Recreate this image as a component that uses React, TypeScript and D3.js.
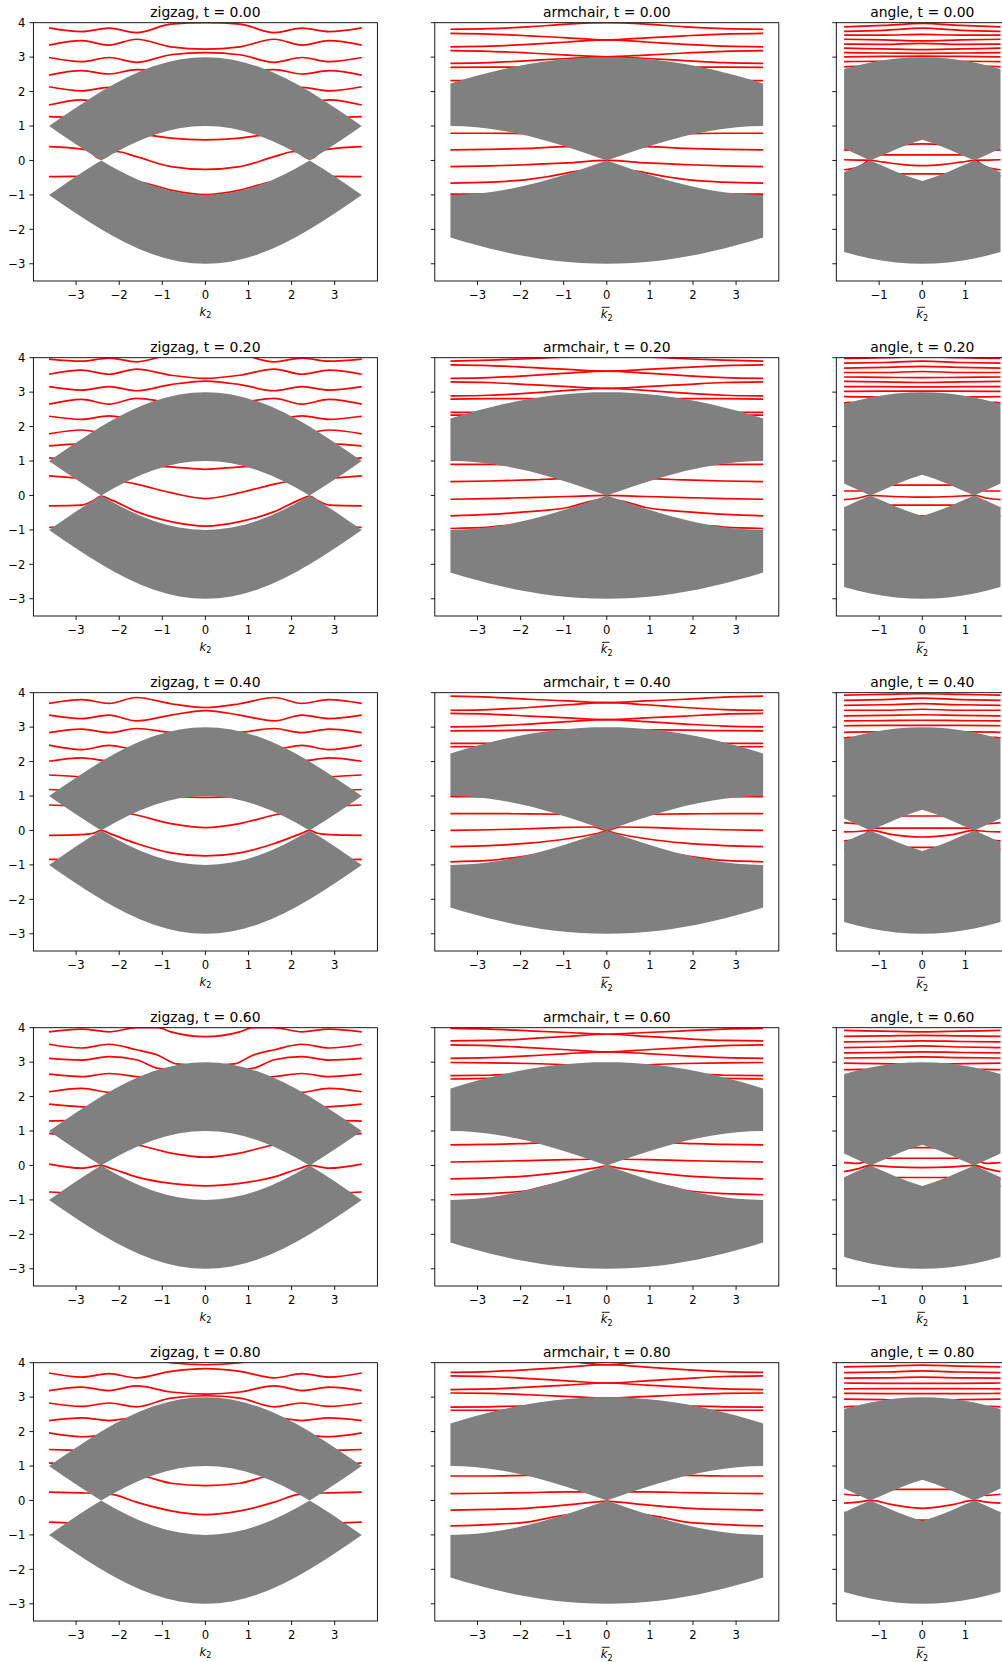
import React from 'react';
import * as d3 from 'd3';

type Pt = [number, number];

const kinds = ['zigzag', 'armchair', 'angle'];
const tValues = [0, 0.2, 0.4, 0.6, 0.8];
const yTickValues = [-3, -2, -1, 0, 1, 2, 3, 4];
const wideXTicks = [-3, -2, -1, 0, 1, 2, 3];
const angleXTicks = [-1, 0, 1];

// grey bulk bands, sampled across the zone
const kWide = [-3.628, -3.326, -3.023, -2.721, -2.419, -2.116, -1.814, -1.512, -1.209, -0.907, -0.605, -0.302, 0,
  0.302, 0.605, 0.907, 1.209, 1.512, 1.814, 2.116, 2.419, 2.721, 3.023, 3.326, 3.628];
const zigzagUpperHi = [1, 1.261, 1.518, 1.765, 2, 2.218, 2.414, 2.587, 2.732, 2.848, 2.932, 2.983, 3,
  2.983, 2.932, 2.848, 2.732, 2.587, 2.414, 2.218, 2, 1.765, 1.518, 1.261, 1];
const zigzagUpperLo = [1, 0.739, 0.482, 0.235, 0, 0.218, 0.414, 0.587, 0.732, 0.848, 0.932, 0.983, 1,
  0.983, 0.932, 0.848, 0.732, 0.587, 0.414, 0.218, 0, 0.235, 0.482, 0.739, 1];
const zigzagLowerHi = [-1, -0.739, -0.482, -0.235, 0, -0.218, -0.414, -0.587, -0.732, -0.848, -0.932, -0.983, -1,
  -0.983, -0.932, -0.848, -0.732, -0.587, -0.414, -0.218, 0, -0.235, -0.482, -0.739, -1];
const zigzagLowerLo = [-1, -1.261, -1.518, -1.765, -2, -2.218, -2.414, -2.587, -2.732, -2.848, -2.932, -2.983, -3,
  -2.983, -2.932, -2.848, -2.732, -2.587, -2.414, -2.218, -2, -1.765, -1.518, -1.261, -1];

const armchairUpperHi = [2.236, 2.35, 2.457, 2.556, 2.646, 2.727, 2.798, 2.859, 2.909, 2.949, 2.977, 2.994, 3,
  2.994, 2.977, 2.949, 2.909, 2.859, 2.798, 2.727, 2.646, 2.556, 2.457, 2.35, 2.236];
const armchairUpperLo = [1, 0.991, 0.966, 0.924, 0.866, 0.793, 0.707, 0.609, 0.5, 0.383, 0.259, 0.131, 0,
  0.131, 0.259, 0.383, 0.5, 0.609, 0.707, 0.793, 0.866, 0.924, 0.966, 0.991, 1];
const armchairLowerHi = [-1, -0.991, -0.966, -0.924, -0.866, -0.793, -0.707, -0.609, -0.5, -0.383, -0.259, -0.131, 0,
  -0.131, -0.259, -0.383, -0.5, -0.609, -0.707, -0.793, -0.866, -0.924, -0.966, -0.991, -1];
const armchairLowerLo = [-2.236, -2.35, -2.457, -2.556, -2.646, -2.727, -2.798, -2.859, -2.909, -2.949, -2.977, -2.994, -3,
  -2.994, -2.977, -2.949, -2.909, -2.859, -2.798, -2.727, -2.646, -2.556, -2.457, -2.35, -2.236];

const kAngle = [-1.814, -1.512, -1.209, -0.907, -0.605, -0.302, 0, 0.302, 0.605, 0.907, 1.209, 1.512, 1.814];
const angleUpperHi = [2.659, 2.76, 2.845, 2.912, 2.962, 2.99, 3, 2.99, 2.962, 2.912, 2.845, 2.76, 2.659];
const angleUpperLo = [0.345, 0.17, 0, 0.16, 0.328, 0.475, 0.6, 0.475, 0.328, 0.16, 0, 0.17, 0.345];
const angleLowerHi = [-0.345, -0.17, 0, -0.16, -0.328, -0.475, -0.6, -0.475, -0.328, -0.16, 0, -0.17, -0.345];
const angleLowerLo = [-2.659, -2.76, -2.845, -2.912, -2.962, -2.99, -3, -2.99, -2.962, -2.912, -2.845, -2.76, -2.659];

// red ribbon bands: left half of each curve (zone edge -> k = 0), the plots are mirror symmetric
const zigzagLines: Pt[][][] = [
  [
    [[-3.628, 3.85], [-2.87, 3.74], [-2.24, 3.84], [-1.6, 3.71], [-0.8, 3.96], [0, 4.0]],
    [[-3.628, 3.35], [-2.87, 3.48], [-2.24, 3.35], [-1.6, 3.52], [-0.8, 3.3], [0, 3.23]],
    [[-3.628, 2.99], [-2.87, 2.87], [-2.24, 2.99], [-1.6, 2.85], [-0.8, 3.07], [0, 3.13]],
    [[-3.628, 2.48], [-2.87, 2.61], [-2.24, 2.51], [-1.6, 2.64], [-0.8, 2.6], [0, 2.55]],
    [[-3.628, 2.14], [-2.87, 2.02], [-2.24, 2.12], [-1.6, 2.0], [0, 2.0]],
    [[-3.628, 1.61], [-2.87, 1.76], [-2.24, 1.62], [0, 1.6]],
    [[-3.628, 1.27], [-3.2, 1.25], [-2.42, 1.0], [-1.6, 0.8], [-0.8, 0.65], [0, 0.6]],
    [[-3.628, 0.4], [-2.87, 0.33], [-2.69, 0.29], [-2.54, 0.11], [-2.42, 0.05], [-2.07, 0.26], [-1.6, 0.11], [-0.8, -0.18], [0, -0.26]],
    [[-3.628, -0.47], [-3.1, -0.46], [-2.42, -0.5], [-1.45, -0.64], [-0.8, -0.86], [0, -0.99]],
  ],
  [
    [[-3.628, 3.96], [-2.87, 3.9], [-2.24, 3.99], [-1.6, 3.88], [-0.8, 4.1], [0, 4.2]],
    [[-3.628, 3.52], [-2.87, 3.64], [-2.24, 3.52], [-1.6, 3.67], [-0.8, 3.49], [0, 3.4]],
    [[-3.628, 3.16], [-2.87, 3.06], [-2.24, 3.16], [-1.6, 3.04], [-0.8, 3.22], [0, 3.32]],
    [[-3.628, 2.65], [-2.87, 2.79], [-2.24, 2.65], [-1.6, 2.82], [-0.8, 2.7], [0, 2.65]],
    [[-3.628, 2.3], [-2.87, 2.21], [-2.24, 2.31], [-1.6, 2.2], [0, 2.2]],
    [[-3.628, 1.79], [-2.87, 1.9], [-2.24, 1.8], [0, 1.8]],
    [[-3.628, 1.44], [-2.87, 1.5], [0, 1.5]],
    [[-3.628, 1.09], [-2.87, 1.0], [-2.24, 0.95], [-1.6, 0.88], [-0.8, 0.83], [0, 0.76]],
    [[-3.628, 0.57], [-3.1, 0.52], [-2.42, 0.45], [-1.85, 0.39], [-1.6, 0.33], [-0.8, 0.08], [0, -0.09]],
    [[-3.628, -0.3], [-2.87, -0.28], [-2.6, -0.15], [-2.42, -0.02], [-2.2, -0.12], [-1.6, -0.47], [-0.8, -0.76], [0, -0.89]],
    [[-3.628, -0.93], [-3.3, -0.9], [-2.42, -0.8], [-1.6, -1.2], [0, -1.5]],
  ],
  [
    [[-3.628, 3.69], [-2.87, 3.8], [-2.24, 3.69], [-1.6, 3.86], [-0.8, 3.68], [0, 3.57]],
    [[-3.628, 3.35], [-2.87, 3.25], [-2.24, 3.35], [-1.6, 3.18], [-0.8, 3.35], [0, 3.48]],
    [[-3.628, 2.84], [-2.87, 2.94], [-2.24, 2.84], [-1.6, 2.96], [-0.8, 2.85], [0, 2.8]],
    [[-3.628, 2.48], [-2.87, 2.35], [-2.24, 2.47], [-1.6, 2.35], [0, 2.3]],
    [[-3.628, 2.01], [-2.87, 2.11], [-2.24, 2.02], [0, 2.0]],
    [[-3.628, 1.61], [-2.87, 1.56], [0, 1.5]],
    [[-3.628, 1.19], [-2.87, 1.15], [-2.24, 1.1], [-1.6, 1.05], [-0.8, 0.99], [0, 0.96]],
    [[-3.628, 0.74], [-3.2, 0.72], [-2.42, 0.6], [-1.68, 0.47], [-0.8, 0.2], [0, 0.08]],
    [[-3.628, -0.14], [-2.87, -0.12], [-2.6, -0.08], [-2.42, 0], [-2.2, -0.1], [-1.6, -0.38], [-0.8, -0.65], [0, -0.74]],
    [[-3.628, -0.84], [-3.1, -0.85], [-2.42, -0.9], [-1.6, -1.2], [0, -1.5]],
  ],
  [
    [[-3.628, 3.88], [-2.87, 3.96], [-2.24, 3.88], [-1.6, 4.0], [-1.1, 4.0], [-0.8, 3.88], [0, 3.74]],
    [[-3.628, 3.52], [-2.87, 3.41], [-2.24, 3.52], [-1.6, 3.36], [-1.1, 3.2], [-0.67, 2.95], [0, 2.9]],
    [[-3.628, 3.11], [-2.87, 3.06], [-2.24, 3.16], [-1.6, 3.07], [-1.1, 2.82], [0, 2.7]],
    [[-3.628, 2.65], [-2.87, 2.58], [-2.24, 2.67], [-1.6, 2.58], [0, 2.4]],
    [[-3.628, 2.14], [-2.87, 2.24], [-2.24, 2.12], [0, 2.0]],
    [[-3.628, 1.78], [-2.87, 1.7], [0, 1.6]],
    [[-3.628, 1.29], [-3.2, 1.3], [-2.42, 1.2], [-1.6, 1.1], [0, 1.05]],
    [[-3.628, 0.93], [-2.87, 0.8], [-2.24, 0.7], [-1.52, 0.58], [-0.8, 0.36], [0, 0.24]],
    [[-3.628, 0.04], [-2.87, -0.08], [-2.42, 0], [-2.2, -0.08], [-1.6, -0.33], [-0.8, -0.52], [0, -0.59]],
    [[-3.628, -0.77], [-3.2, -0.8], [-2.42, -0.9], [-1.6, -1.2], [0, -1.5]],
  ],
  [
    [[-3.628, 4.4], [-2, 4.3], [-1.2, 4.12], [-0.8, 4.0], [0, 3.94]],
    [[-3.628, 3.7], [-2.87, 3.58], [-2.24, 3.68], [-1.6, 3.56], [-0.8, 3.75], [0, 3.83]],
    [[-3.628, 3.19], [-2.87, 3.29], [-2.24, 3.19], [-1.6, 3.33], [-0.8, 3.15], [0, 3.09]],
    [[-3.628, 2.83], [-2.87, 2.73], [-2.24, 2.83], [-1.6, 2.72], [-0.8, 2.97], [0, 3.04]],
    [[-3.628, 2.32], [-2.87, 2.4], [-2.24, 2.32], [-1.6, 2.4], [0, 2.4]],
    [[-3.628, 1.96], [-2.87, 1.85], [-2.24, 1.9], [0, 1.9]],
    [[-3.628, 1.48], [-3.2, 1.46], [0, 1.4]],
    [[-3.628, 1.09], [-2.87, 1.0], [-2.24, 0.9], [-1.35, 0.68], [-0.8, 0.5], [0, 0.43]],
    [[-3.628, 0.24], [-2.87, 0.22], [-2.42, 0.2], [-2.13, 0.17], [-1.6, -0.05], [-0.8, -0.3], [0, -0.41]],
    [[-3.628, -0.63], [-3.1, -0.66], [-2.42, -0.8], [-1.6, -1.2], [0, -1.5]],
  ],
];

const armchairLines: Pt[][][] = [
  [
    [[-3.628, 3.81], [-2.72, 3.83], [-1.81, 3.88], [-0.91, 3.96], [0, 4.0]],
    [[-3.628, 3.69], [-2.72, 3.67], [-1.81, 3.62], [-0.91, 3.56], [0, 3.5]],
    [[-3.628, 3.3], [-2.72, 3.32], [-1.81, 3.37], [-0.91, 3.44], [0, 3.5]],
    [[-3.628, 3.19], [-2.72, 3.17], [-1.81, 3.12], [-0.91, 3.06], [0, 3.01]],
    [[-3.628, 2.82], [-2.72, 2.84], [-1.81, 2.9], [-0.91, 2.96], [0, 3.0]],
    [[-3.628, 2.7], [-2.72, 2.71], [-2.17, 2.71], [0, 2.6]],
    [[-3.628, 2.32], [-3.35, 2.32], [0, 2.2]],
    [[-3.628, 0.79], [-2.72, 0.79], [-1.81, 0.78], [-0.91, 0.7], [0, 0.6]],
    [[-3.628, 0.31], [-2.72, 0.32], [-1.81, 0.35], [-0.91, 0.4], [0, 0.4]],
    [[-3.628, -0.18], [-2.72, -0.16], [-1.81, -0.12], [-0.91, -0.07], [0, 0]],
    [[-3.628, -0.66], [-2.72, -0.63], [-1.81, -0.55], [-0.91, -0.36], [-0.77, -0.32], [0, -0.25]],
    [[-3.628, -0.98], [-2.72, -0.98], [0, -0.9]],
  ],
  [
    [[-3.628, 3.9], [-2.72, 3.93], [-1.81, 3.97], [-0.91, 4.02], [0, 4.05]],
    [[-3.628, 3.79], [-2.72, 3.77], [-1.81, 3.72], [-0.91, 3.66], [0, 3.61]],
    [[-3.628, 3.4], [-2.72, 3.42], [-1.81, 3.48], [-0.91, 3.55], [0, 3.61]],
    [[-3.628, 3.3], [-2.72, 3.28], [-1.81, 3.22], [-0.91, 3.16], [0, 3.11]],
    [[-3.628, 2.89], [-2.72, 2.91], [-1.81, 2.97], [-0.91, 3.05], [0, 3.11]],
    [[-3.628, 2.8], [-2.72, 2.81], [-1.75, 2.81], [0, 2.7]],
    [[-3.628, 2.41], [-3.15, 2.41], [0, 2.3]],
    [[-3.628, 2.33], [-3.35, 2.33], [0, 2.2]],
    [[-3.628, 0.9], [-2.72, 0.9], [-1.81, 0.88], [0, 0.8]],
    [[-3.628, 0.4], [-2.72, 0.42], [-1.81, 0.45], [-1.17, 0.48], [0, 0.5]],
    [[-3.628, -0.11], [-2.72, -0.09], [-1.81, -0.06], [-0.91, -0.03], [0, 0]],
    [[-3.628, -0.59], [-2.72, -0.55], [-1.81, -0.47], [-0.91, -0.35], [-0.41, -0.18], [0, -0.1]],
    [[-3.628, -0.96], [-2.72, -0.92], [-2.53, -0.89], [0, -0.8]],
  ],
  [
    [[-3.628, 3.9], [-2.72, 3.87], [-1.81, 3.81], [-0.91, 3.76], [0, 3.71]],
    [[-3.628, 3.49], [-2.72, 3.51], [-1.81, 3.57], [-0.91, 3.65], [0, 3.71]],
    [[-3.628, 3.4], [-2.72, 3.38], [-1.81, 3.32], [-0.91, 3.27], [0, 3.22]],
    [[-3.628, 3.01], [-2.72, 3.03], [-1.81, 3.09], [-0.91, 3.16], [0, 3.22]],
    [[-3.628, 2.89], [-2.72, 2.9], [-1.2, 2.92], [0, 2.85]],
    [[-3.628, 2.53], [-2.72, 2.53], [-2.4, 2.6], [0, 2.5]],
    [[-3.628, 2.43], [-3.0, 2.43], [0, 2.3]],
    [[-3.628, 0.98], [-3.2, 0.98], [0, 0.9]],
    [[-3.628, 0.49], [-2.72, 0.49], [-1.81, 0.48], [-1.14, 0.47], [0, 0.45]],
    [[-3.628, 0.0], [-2.72, 0.02], [-1.81, 0.05], [-0.91, 0.09], [-0.3, 0.1], [0, 0.0]],
    [[-3.628, -0.47], [-2.72, -0.44], [-1.81, -0.37], [-0.91, -0.24], [-0.2, -0.08], [0, -0.02]],
    [[-3.628, -0.91], [-2.72, -0.87], [-1.92, -0.75], [-0.91, -0.55], [0, -0.4]],
  ],
  [
    [[-3.628, 3.98], [-2.72, 3.96], [-1.81, 3.91], [-0.91, 3.86], [0, 3.81]],
    [[-3.628, 3.62], [-2.72, 3.63], [-1.81, 3.68], [-0.91, 3.75], [0, 3.81]],
    [[-3.628, 3.5], [-2.72, 3.48], [-1.81, 3.42], [-0.91, 3.36], [0, 3.3]],
    [[-3.628, 3.11], [-2.72, 3.13], [-1.81, 3.18], [-0.91, 3.25], [0, 3.3]],
    [[-3.628, 2.99], [-2.72, 2.98], [-1.81, 2.96], [-1.08, 2.93], [0, 2.85]],
    [[-3.628, 2.61], [-2.72, 2.62], [-2.42, 2.64], [0, 2.5]],
    [[-3.628, 2.51], [-2.75, 2.53], [0, 2.4]],
    [[-3.628, 0.6], [-2.72, 0.61], [-1.64, 0.65], [0, 0.7]],
    [[-3.628, 0.1], [-2.72, 0.12], [-1.81, 0.14], [-0.91, 0.17], [-0.41, 0.18], [0, 0.2]],
    [[-3.628, -0.39], [-2.72, -0.36], [-1.81, -0.3], [-0.91, -0.18], [-0.3, -0.08], [0, -0.02]],
    [[-3.628, -0.85], [-2.72, -0.82], [-1.81, -0.72], [-1.42, -0.6], [0, -0.35]],
  ],
  [
    [[-3.628, 4.25], [-1.81, 4.15], [-0.91, 4.05], [0, 3.94]],
    [[-3.628, 3.72], [-2.72, 3.74], [-1.81, 3.8], [-0.91, 3.87], [0, 3.94]],
    [[-3.628, 3.62], [-2.72, 3.6], [-1.81, 3.54], [-0.91, 3.47], [0, 3.41]],
    [[-3.628, 3.22], [-2.72, 3.24], [-1.81, 3.29], [-0.91, 3.35], [0, 3.41]],
    [[-3.628, 3.12], [-2.72, 3.11], [-1.81, 3.07], [-0.58, 3.0], [0, 2.97]],
    [[-3.628, 2.71], [-2.72, 2.72], [-2.03, 2.74], [0, 2.6]],
    [[-3.628, 2.62], [-2.53, 2.615], [0, 2.5]],
    [[-3.628, 0.71], [-2.72, 0.71], [-1.92, 0.73], [0, 0.75]],
    [[-3.628, 0.2], [-2.72, 0.21], [-1.81, 0.23], [-0.91, 0.25], [-0.58, 0.25], [0, 0.28]],
    [[-3.628, -0.28], [-2.72, -0.26], [-1.81, -0.22], [-0.91, -0.13], [-0.3, -0.05], [0, -0.02]],
    [[-3.628, -0.74], [-2.72, -0.7], [-1.81, -0.62], [-1.08, -0.45], [0, -0.3]],
  ],
];

const angleLines: Pt[][][] = [
  [
    [[-1.814, 3.88], [-0.9, 3.92], [0, 3.98]],
    [[-1.814, 3.75], [-0.9, 3.78], [0, 3.84]],
    [[-1.814, 3.64], [-0.9, 3.64], [0, 3.66]],
    [[-1.814, 3.52], [-0.9, 3.5], [0, 3.47]],
    [[-1.814, 3.38], [-0.9, 3.37], [0, 3.4]],
    [[-1.814, 3.26], [-0.9, 3.24], [0, 3.22]],
    [[-1.814, 3.13], [-0.9, 3.12], [0, 3.11]],
    [[-1.814, 3.01], [-0.9, 3.02], [0, 3.03]],
    [[-1.814, 2.87], [-0.98, 2.88], [0, 2.8]],
    [[-1.814, 2.72], [-1.55, 2.73], [0, 2.6]],
    [[-1.814, 0.31], [-1.5, 0.3], [-1.0, 0.3], [-0.5, 0.45], [0, 0.48]],
    [[-1.814, 0.02], [-1.5, 0.01], [-1.21, 0], [-0.9, -0.05], [-0.45, -0.12], [0, -0.15]],
    [[-1.814, -0.27], [-1.5, -0.2], [-1.0, 0.16], [-0.5, 0.16], [0, 0.16]],
    [[-1.814, -0.45], [-1.2, -0.5], [-0.5, -0.39], [0, -0.39]],
  ],
  [
    [[-1.814, 3.98], [-0.9, 4.0], [0, 4.02]],
    [[-1.814, 3.84], [-0.9, 3.86], [0, 3.9]],
    [[-1.814, 3.7], [-0.9, 3.72], [0, 3.75]],
    [[-1.814, 3.57], [-0.9, 3.57], [0, 3.6]],
    [[-1.814, 3.44], [-0.9, 3.43], [0, 3.42]],
    [[-1.814, 3.31], [-0.9, 3.3], [0, 3.28]],
    [[-1.814, 3.16], [-0.9, 3.16], [0, 3.15]],
    [[-1.814, 3.02], [-0.9, 3.03], [0, 3.03]],
    [[-1.814, 2.87], [-1.17, 2.86], [0, 2.8]],
    [[-1.814, 2.68], [-1.7, 2.7], [0, 2.6]],
    [[-1.814, 0.13], [-1.44, 0.13], [-1.0, 0.3], [-0.65, 0.3], [0, 0.3]],
    [[-1.814, -0.12], [-1.5, -0.08], [-1.21, 0], [-0.7, -0.03], [0, -0.05]],
    [[-1.814, -0.35], [-1.5, -0.4], [-1.0, -0.28], [-0.7, -0.28], [0, -0.28]],
    [[-1.814, -0.6], [-1.0, -0.65], [-0.1, -0.6], [0, -0.59]],
  ],
  [
    [[-1.814, 3.93], [-0.9, 3.95], [0, 3.97]],
    [[-1.814, 3.78], [-0.9, 3.8], [0, 3.84]],
    [[-1.814, 3.63], [-0.9, 3.65], [0, 3.68]],
    [[-1.814, 3.49], [-0.9, 3.49], [0, 3.52]],
    [[-1.814, 3.33], [-0.9, 3.34], [0, 3.36]],
    [[-1.814, 3.18], [-0.9, 3.19], [0, 3.2]],
    [[-1.814, 3.04], [-0.9, 3.05], [0, 3.05]],
    [[-1.814, 2.85], [-1.2, 2.86], [0, 2.8]],
    [[-1.814, 2.68], [-1.7, 2.7], [0, 2.6]],
    [[-1.814, 0.23], [-1.5, 0.2], [-1.0, 0.35], [-0.47, 0.42], [0, 0.42]],
    [[-1.814, -0.04], [-1.5, -0.03], [-1.21, 0], [-0.7, -0.12], [0, -0.19]],
    [[-1.814, -0.3], [-1.5, -0.25], [-1.09, 0.07], [-0.5, 0.07], [0, 0.07]],
    [[-1.814, -0.55], [-1.0, -0.55], [-0.3, -0.49], [0, -0.49]],
  ],
  [
    [[-1.814, 3.92], [-0.9, 3.9], [0, 3.88]],
    [[-1.814, 3.75], [-0.9, 3.76], [0, 3.78]],
    [[-1.814, 3.59], [-0.9, 3.6], [0, 3.62]],
    [[-1.814, 3.42], [-0.9, 3.44], [0, 3.47]],
    [[-1.814, 3.27], [-0.9, 3.28], [0, 3.3]],
    [[-1.814, 3.12], [-0.9, 3.13], [0, 3.15]],
    [[-1.814, 2.97], [-0.7, 2.95], [0, 2.9]],
    [[-1.814, 2.78], [-1.4, 2.79], [0, 2.7]],
    [[-1.814, 0.08], [-1.5, 0.06], [-1.0, 0.3], [-0.2, 0.52], [0, 0.52]],
    [[-1.814, -0.18], [-1.5, -0.1], [-1.21, 0], [-0.7, -0.04], [0, -0.06]],
    [[-1.814, -0.4], [-1.5, -0.22], [-1.21, 0], [-1.0, 0.2], [-0.82, 0.21], [0, 0.21]],
    [[-1.814, -0.6], [-1.0, -0.5], [-0.58, -0.35], [0, -0.35]],
  ],
  [
    [[-1.814, 3.88], [-0.9, 3.9], [0, 3.93]],
    [[-1.814, 3.71], [-0.9, 3.73], [0, 3.76]],
    [[-1.814, 3.55], [-0.9, 3.56], [0, 3.58]],
    [[-1.814, 3.41], [-0.9, 3.4], [0, 3.4]],
    [[-1.814, 3.24], [-0.9, 3.25], [0, 3.25]],
    [[-1.814, 3.11], [-0.9, 3.1], [0, 3.1]],
    [[-1.814, 2.94], [-0.9, 2.93], [0, 2.85]],
    [[-1.814, 2.72], [-1.6, 2.73], [0, 2.6]],
    [[-1.814, 0.18], [-1.5, 0.15], [-1.0, 0.3], [-0.6, 0.32], [0, 0.32]],
    [[-1.814, -0.08], [-1.5, -0.05], [-1.21, 0], [-0.7, -0.12], [0, -0.23]],
    [[-1.814, -0.35], [-1.2, -0.4], [-0.2, -0.57], [0, -0.57]],
  ],
];

const bulkByCol = [
  { k: kWide, bands: [[zigzagUpperLo, zigzagUpperHi], [zigzagLowerLo, zigzagLowerHi]] },
  { k: kWide, bands: [[armchairUpperLo, armchairUpperHi], [armchairLowerLo, armchairLowerHi]] },
  { k: kAngle, bands: [[angleUpperLo, angleUpperHi], [angleLowerLo, angleLowerHi]] },
];
const linesByCol = [zigzagLines, armchairLines, angleLines];

const W = 1002;
const H = 1662;
const colLeft = [33.4, 434.8, 836.3];
const colWidth = [344, 344, 172];
const rowTop0 = 22.7;
const rowStep = 335;
const axH = 258.3;
const font = 'DejaVu Sans, sans-serif';
const tickFont = 11.6;
const titleFont = 13.9;
const tickLen = 4;

// reflect a left-half curve onto k > 0
const mirror = (half: Pt[]): Pt[] => [
  ...half,
  ...half.slice(0, -1).reverse().map(([k, e]) => [-k, e] as Pt),
];

const fmt = (v: number) => (v < 0 ? `\u2212${Math.abs(v)}` : `${v}`);

function Panel({ row, col }: { row: number; col: number }) {
  const left = colLeft[col];
  const width = colWidth[col];
  const top = rowTop0 + rowStep * row;
  const bottom = top + axH;
  const xMax = col === 2 ? 1.995 : 3.991;

  const x = d3.scaleLinear().domain([-xMax, xMax]).range([left, left + width]);
  const y = d3.scaleLinear().domain([-3.5, 4]).range([bottom, top]);

  const line = d3
    .line<Pt>()
    .x(d => x(d[0]))
    .y(d => y(d[1]))
    .curve(d3.curveMonotoneX);

  const bulk = bulkByCol[col];
  const areas = bulk.bands.map(([lo, hi]) =>
    d3
      .area<number>()
      .x(d => x(d))
      .y0((_, i) => y(lo[i]))
      .y1((_, i) => y(hi[i]))(bulk.k)
  );

  const xTicks = col === 2 ? angleXTicks : wideXTicks;
  const clipId = `clip-${row}-${col}`;
  const cx = left + width / 2;
  const barred = col !== 0;

  return (
    <g>
      <defs>
        <clipPath id={clipId}>
          <rect x={left} y={top} width={width} height={axH} />
        </clipPath>
      </defs>
      <g clipPath={`url(#${clipId})`}>
        {linesByCol[col][row].map((half, i) => (
          <path key={i} d={line(mirror(half)) || ''} fill="none" stroke="#ff0000" strokeWidth={1.7} />
        ))}
        {areas.map((d, i) => (
          <path key={i} d={d || ''} fill="#808080" stroke="none" />
        ))}
      </g>
      <rect x={left} y={top} width={width} height={axH} fill="none" stroke="#000" strokeWidth={0.9} />
      {yTickValues.map(v => (
        <g key={v}>
          <line x1={left - tickLen} x2={left} y1={y(v)} y2={y(v)} stroke="#000" strokeWidth={0.9} />
          {col === 0 && (
            <text x={left - 8.1} y={y(v) + 4.2} textAnchor="end" fontSize={tickFont} fontFamily={font}>
              {fmt(v)}
            </text>
          )}
        </g>
      ))}
      {xTicks.map(v => (
        <g key={v}>
          <line x1={x(v)} x2={x(v)} y1={bottom} y2={bottom + tickLen} stroke="#000" strokeWidth={0.9} />
          <text x={x(v)} y={bottom + 17.5} textAnchor="middle" fontSize={tickFont} fontFamily={font}>
            {fmt(v)}
          </text>
        </g>
      ))}
      {barred && (
        <line x1={cx - 5} x2={cx + 2.8} y1={bottom + 26.3} y2={bottom + 26.3} stroke="#000" strokeWidth={0.9} />
      )}
      <text x={cx} y={bottom + (barred ? 37.3 : 34.7)} textAnchor="middle" fontSize={tickFont} fontFamily={font}>
        <tspan fontStyle="italic">k</tspan>
        <tspan fontSize={8.1} dy={2.2}>2</tspan>
      </text>
      <text x={cx} y={top - 6.2} textAnchor="middle" fontSize={titleFont} fontFamily={font}>
        {`${kinds[col]}, t = ${tValues[row].toFixed(2)}`}
      </text>
    </g>
  );
}

export default function App() {
  return (
    <div style={{ position: 'absolute', left: 0, top: 0 }}>
      <svg width={W} height={H} viewBox={`0 0 ${W} ${H}`} style={{ display: 'block', background: '#fff' }}>
        <rect x={0} y={0} width={W} height={H} fill="#fff" />
        {tValues.map((_, r) =>
          kinds.map((_, c) => <Panel key={`${r}-${c}`} row={r} col={c} />)
        )}
      </svg>
    </div>
  );
}
